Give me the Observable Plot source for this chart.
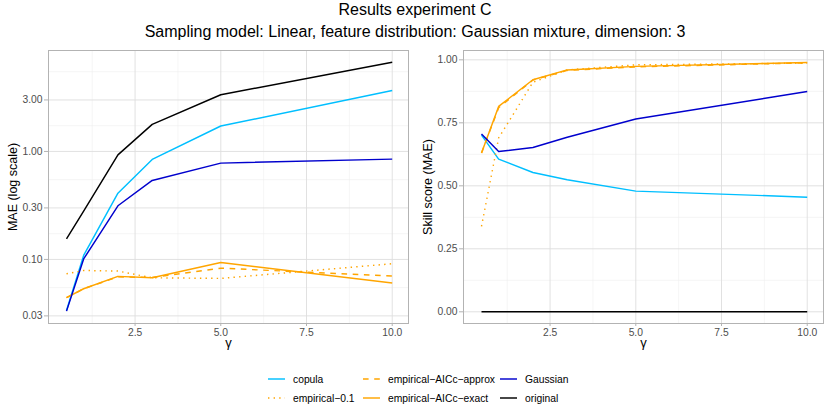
<!DOCTYPE html>
<html>
<head>
<meta charset="utf-8">
<script src="https://cdn.jsdelivr.net/npm/d3@7"></script>
<script src="https://cdn.jsdelivr.net/npm/@observablehq/plot@0.6"></script>
<style>
  html, body { margin: 0; padding: 0; background: white; }
  #wrap { position: relative; width: 830px; height: 415px; font-family: "Liberation Sans", Arial, sans-serif; background: white; overflow: hidden; }
  .ttl { position: absolute; left: 0; width: 830px; text-align: center; font-size: 16px; line-height: 18px; color: #000; white-space: nowrap; }
  .panel { position: absolute; top: 42px; }
  g[aria-label="x-axis tick"], g[aria-label="y-axis tick"] { stroke: #b3b3b3; }
  #legend { position: absolute; left: 268px; top: 369.5px; display: grid; grid-template-columns: 95px 137px auto; grid-template-rows: 19px 19px; grid-auto-flow: column; font-size: 10.3px; color: #000; }
  .item { display: flex; align-items: center; white-space: nowrap; }
  .item svg { width: 17px; height: 10px; margin-right: 8px; flex: none; }
</style>
</head>
<body>
<div id="wrap">
  <div class="ttl" style="top:1.2px">Results experiment C</div>
  <div class="ttl" style="top:23.2px">Sampling model: Linear, feature distribution: Gaussian mixture, dimension: 3</div>
  <div id="left" class="panel" style="left:0"></div>
  <div id="right" class="panel" style="left:415px"></div>
  <div id="legend"></div>
</div>
<script>
// ---- data ----
const gamma = [0.5, 1, 2, 3, 5, 10];
const methods = ["copula", "empirical-0.1", "empirical-AICc-approx", "empirical-AICc-exact", "Gaussian", "original"];
const methodLabels = ["copula", "empirical\u22120.1", "empirical\u2212AICc\u2212approx", "empirical\u2212AICc\u2212exact", "Gaussian", "original"];

// MAE (left panel, log scale)
const maeCopula   = [0.0337, 0.109, 0.411, 0.843, 1.72, 3.67];
const maeEmp01    = [0.0736, 0.079, 0.078, 0.0676, 0.0667, 0.0912];
const maeApprox   = [0.0442, 0.0535, 0.0690, 0.0680, 0.083, 0.0701];
const maeExact    = [0.0442, 0.0535, 0.0697, 0.0676, 0.0938, 0.0604];
const maeGaussian = [0.0332, 0.101, 0.314, 0.539, 0.78, 0.849];
const maeOriginal = [0.155, 0.28, 0.93, 1.78, 3.35, 6.71];

// Skill score (right panel)
const skCopula   = [0.701, 0.606, 0.553, 0.524, 0.479, 0.455];
const skEmp01    = [0.339, 0.69, 0.911, 0.96, 0.98, 0.987];
const skApprox   = [0.63, 0.81, 0.92, 0.958, 0.972, 0.988];
const skExact    = [0.63, 0.815, 0.921, 0.960, 0.974, 0.989];
const skGaussian = [0.706, 0.636, 0.652, 0.693, 0.765, 0.874];
const skOriginal = [0, 0, 0, 0, 0, 0];

// tick labels
const xTicks = [2.5, 5, 7.5, 10];
const xMinor = [1.25, 3.75, 6.25, 8.75];
const yTicksLeft = [0.03, 0.1, 0.3, 1, 3];
const yMinorLeft = [0.0548, 0.173, 0.548, 1.73, 5.48];
const yTicksRight = [0, 0.25, 0.5, 0.75, 1];
const yMinorRight = [0.125, 0.375, 0.625, 0.875];

// ---- styles ----
const colors = {"copula": "#00BFFF", "empirical-0.1": "#FFA500", "empirical-AICc-approx": "#FFA500",
                "empirical-AICc-exact": "#FFA500", "Gaussian": "#0000CD", "original": "#000000"};
const dashes = {"copula": null, "empirical-0.1": "1.4,4.2", "empirical-AICc-approx": "5.6,5.6",
                "empirical-AICc-exact": null, "Gaussian": null, "original": null};

const maeSeries = [maeCopula, maeEmp01, maeApprox, maeExact, maeGaussian, maeOriginal];
const skSeries = [skCopula, skEmp01, skApprox, skExact, skGaussian, skOriginal];

function rowsFor(series) {
  const rows = [];
  methods.forEach((m, i) => gamma.forEach((g, j) => rows.push({method: m, gamma: g, value: series[i][j]})));
  return rows;
}
const maeRows = rowsFor(maeSeries);
const skRows = rowsFor(skSeries);

function lineMarks(rows) {
  return methods.map(m => Plot.line(rows.filter(r => r.method === m), {
    x: "gamma", y: "value", stroke: colors[m], strokeWidth: 1.45,
    strokeDasharray: dashes[m] || undefined, strokeLinecap: "butt", strokeLinejoin: "round"
  }));
}

function panel(rows, yOpts, yTicks, yMinor, yFormat, yLabel) {
  return Plot.plot({
    width: 415, height: 313,
    marginLeft: 48, marginRight: 7, marginTop: 8, marginBottom: 32,
    style: {fontFamily: "Liberation Sans, Arial, sans-serif", fontSize: "10px", background: "white", overflow: "visible"},
    x: {domain: [-0.025, 10.475], label: null},
    y: {...yOpts, label: null},
    marks: [
      Plot.gridX(xMinor, {stroke: "#efefef", strokeOpacity: 1, strokeWidth: 0.6}),
      Plot.gridY(yMinor, {stroke: "#efefef", strokeOpacity: 1, strokeWidth: 0.6}),
      Plot.gridX(xTicks, {stroke: "#dedede", strokeOpacity: 1, strokeWidth: 0.9}),
      Plot.gridY(yTicks, {stroke: "#dedede", strokeOpacity: 1, strokeWidth: 0.9}),
      ...lineMarks(rows),
      Plot.frame({stroke: "#b3b3b3", strokeWidth: 1}),
      Plot.axisX(xTicks, {tickSize: 3, tickPadding: 2, tickFormat: d3.format(".1f"), color: "#4d4d4d", fontSize: 10.3}),
      Plot.axisY(yTicks, {tickSize: 4, tickPadding: 2, tickFormat: d3.format(yFormat), color: "#4d4d4d", fontSize: 10.3}),
      Plot.text(["\u03B3"], {frameAnchor: "bottom", text: d => d, dy: 23, fontSize: 13, fill: "#000", textAnchor: "middle"}),
      Plot.text([yLabel], {frameAnchor: "left", text: d => d, dx: -36, rotate: -90, fontSize: 12.5, fill: "#000", textAnchor: "middle"})
    ]
  });
}

document.getElementById("left").appendChild(
  panel(maeRows, {type: "log", domain: [0.0255, 8.61]}, yTicksLeft, yMinorLeft, ".2f", "MAE (log scale)"));
document.getElementById("right").appendChild(
  panel(skRows, {domain: [-0.0464, 1.037]}, yTicksRight, yMinorRight, ".2f", "Skill score (MAE)"));

// ---- legend ----
const legend = document.getElementById("legend");
methods.forEach((m, i) => {
  const item = document.createElement("div");
  item.className = "item";
  const dash = dashes[m] ? ` stroke-dasharray="${dashes[m]}"` : "";
  item.innerHTML = `<svg viewBox="0 0 17 10"><line x1="0" x2="17" y1="5" y2="5" stroke="${colors[m]}" stroke-width="1.45"${dash}/></svg><span>${methodLabels[i]}</span>`;
  legend.appendChild(item);
});
</script>
</body>
</html>
